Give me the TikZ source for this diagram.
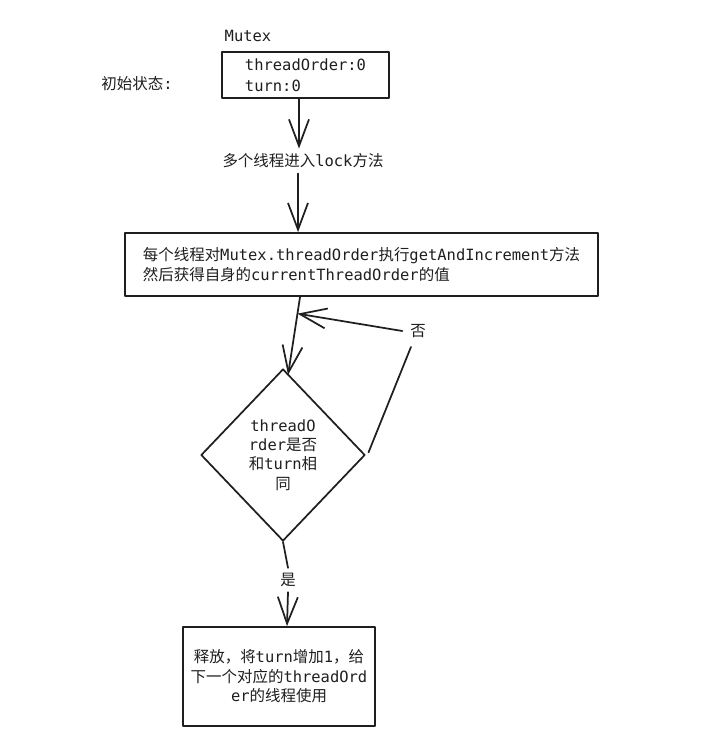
\documentclass[tikz,border=0pt]{standalone}
\usepackage{fontspec}
\setmainfont{DejaVu Sans Mono}
\newfontfamily\zh{Noto Sans CJK SC}
\usetikzlibrary{arrows.meta,shapes.geometric}

\begin{document}
\begin{tikzpicture}[x=0.75pt, y=-0.75pt, color=black!88,
    font=\fontsize{11.6}{14.6}\selectfont,
    line width=1.3pt, line cap=round, line join=round,
    box/.style={draw, rectangle, inner sep=0pt},
    arr/.style={-{Straight Barb[length=20pt,width=15pt]}}]
    \fill[white] (0,0) rectangle (703,755);
    \useasboundingbox (0,0) rectangle (703,755);

    \node (mutex) at (248,36){Mutex};
    \node (init) at (137,84){{\zh 初始状态}:};
    \node[box, minimum width=125.3pt, minimum height=34.5pt, align=left] (state) at (305.5,75)
        {threadOrder:0\\[1.5pt]turn:0};

    \node (lock) at (303,161){{\zh 多个线程进入}lock{\zh 方法}};

    \node[box, minimum width=354.8pt, minimum height=47.3pt, align=left] (fetch) at (361.5,264.5)
        {{\zh 每个线程对}Mutex.threadOrder{\zh 执行}getAndIncrement{\zh 方法}\\
         {\zh 然后获得自身的}currentThreadOrder{\zh 的值}};

    \node[diamond, draw, inner sep=0pt, minimum width=123pt, minimum height=129pt, align=center] (check) at (283,455)
        {threadO\\rder{\zh 是否}\\{\zh 和}turn{\zh 相}\\{\zh 同}};

    \node (no) at (418,331){{\zh 否}};
    \node (yes) at (288,580){{\zh 是}};

    \node[box, minimum width=144pt, minimum height=74.3pt, align=center] (release) at (279,676.5)
        {{\zh 释放，将}turn{\zh 增加}1{\zh ，给}\\{\zh 下一个对应的}threadOrd\\er{\zh 的线程使用}};

    \draw[arr] ([xshift=-4.9pt]state.south) -- ([xshift=-3pt]lock.north);
    \draw[arr] ([xshift=-3.8pt]lock.south) -- ([xshift=-47.6pt]fetch.north);
    \draw[arr] ([xshift=-46.1pt]fetch.south) -- ([xshift=3.8pt,yshift=-5pt]check.north)
        coordinate[pos=0.215] (back);

    \draw ([xshift=2pt,yshift=2pt]check.east) -- ([xshift=4.5pt,yshift=-3pt]no.south west);
    \draw[arr] ([xshift=-2pt]no.west) -- (back);

    \draw (check.south) -- (yes.north);
    \draw[arr] (yes.south) -- ([xshift=6pt]release.north);
\end{tikzpicture}
\end{document}
